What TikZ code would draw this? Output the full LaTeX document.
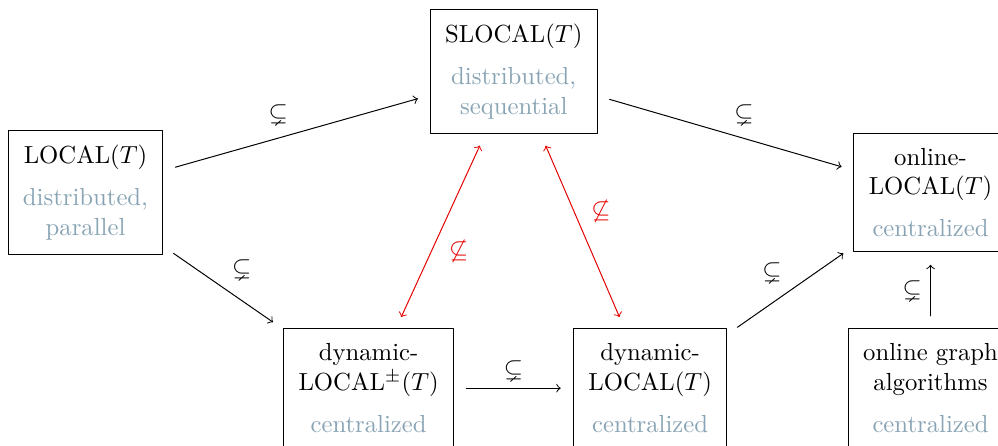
\documentclass[tikz,border=0pt]{standalone}
\usepackage{amsmath}
\usepackage{amsfonts}
\usepackage{xcolor}
\usepackage{amssymb}
\usetikzlibrary{arrows}
\definecolor{desccol}{RGB}{136,164,180}
\newcommand{\dsc}[1]{\textcolor{desccol}{#1}}

\begin{document}
\begin{tikzpicture}[line cap=round,line join=round,x=1.0cm,y=1.0cm,
		box/.style={draw,align=center,inner sep=6pt},
		rel/.style={->,shorten >=5pt,shorten <=5pt},
		nrel/.style={<->,color=red!90!black,shorten >=5pt,shorten <=5pt}]
		\useasboundingbox (0,0) rectangle (14.2,-6.333);
		% the models
		\node[box] (local) at (1.217,-2.74) {LOCAL$(T)$\\[5pt]\dsc{distributed,}\\\dsc{parallel}};
		\node[box] (slocal) at (7.31,-1.018) {SLOCAL$(T)$\\[5pt]\dsc{distributed,}\\\dsc{sequential}};
		\node[box] (onlocal) at (13.24,-2.74) {online-\\LOCAL$(T)$\\[5pt]\dsc{centralized}};
		\node[box] (dynpm) at (5.245,-5.523) {dynamic-\\LOCAL$^{\pm}(T)$\\[5pt]\dsc{centralized}};
		\node[box] (dyn) at (9.25,-5.523) {dynamic-\\LOCAL$(T)$\\[5pt]\dsc{centralized}};
		\node[box] (ongraph) at (13.24,-5.523) {online graph\\algorithms\\[5pt]\dsc{centralized}};
		% inclusions
		\draw[rel] (local) -- node[auto] {$\subsetneq$} (slocal);
		\draw[rel] (slocal) -- node[auto] {$\subsetneq$} (onlocal);
		\draw[rel] (local) -- node[auto] {$\subsetneq$} (dynpm);
		\draw[rel] (dynpm) -- node[auto] {$\subsetneq$} (dyn);
		\draw[rel] (dyn) -- node[auto] {$\subsetneq$} (onlocal);
		\draw[rel] (ongraph) -- node[auto] {$\subsetneq$} (onlocal);
		\draw[nrel] (slocal) -- node[auto] {$\not\subseteq$} (dynpm);
		\draw[nrel] (slocal) -- node[auto] {$\not\subseteq$} (dyn);
	\end{tikzpicture}
\end{document}
